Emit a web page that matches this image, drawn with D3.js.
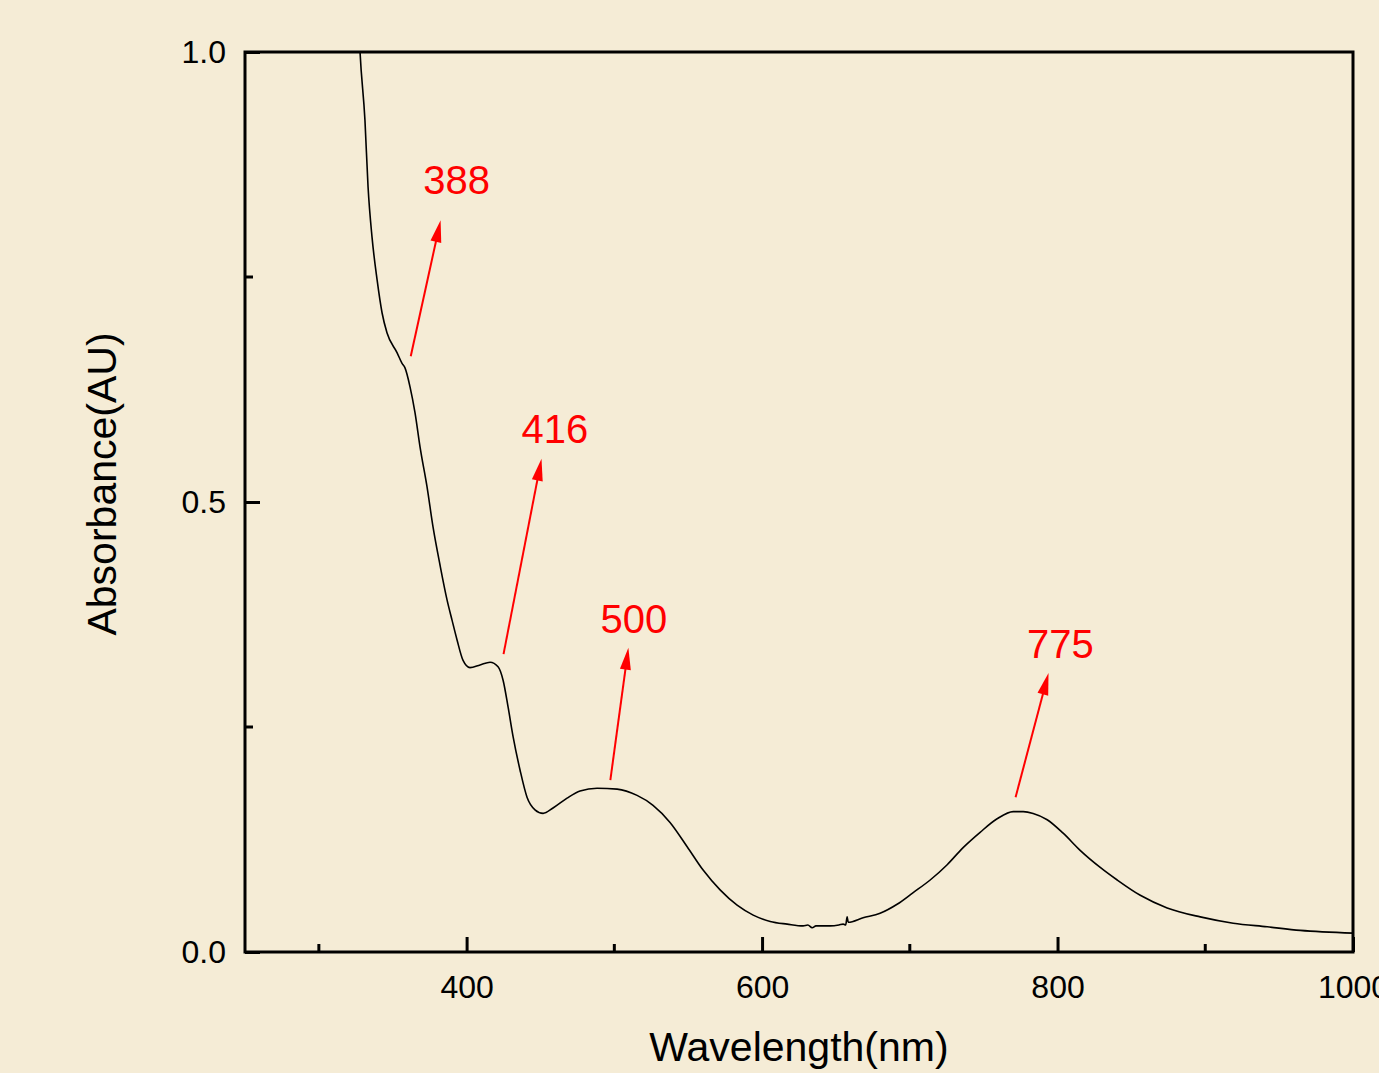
<!DOCTYPE html>
<html>
<head>
<meta charset="utf-8">
<script src="https://cdn.jsdelivr.net/npm/d3@7"></script>
<style>
  body { margin: 0; background: #f5ecd6; }
  svg { display: block; }
</style>
</head>
<body>
<div id="chart"></div>
<script>
// spectrum: wavelength (nm) and absorbance (AU)
const wavelength = [327, 327.9, 331.2, 333.3, 336.0, 339.4, 342.8, 346.1, 352.9, 356.3, 358.3, 361.7, 365.1, 368.5, 373.2, 377.3, 382.0, 386.8, 390.1, 393.5, 397.6, 402.3, 409.1, 415.9, 421.3, 424.7, 428.1, 431.5, 436.2, 440.9, 446.3, 451.8, 458.5, 468.0, 476.8, 488.3, 501.9, 515.4, 526.2, 537.7, 549.3, 560.1, 571.6, 583.1, 594.0, 605.5, 617.0, 627.8, 631.0, 633.9, 636.5, 639.3, 646.1, 652.0, 654.9, 656.6, 657.6, 658.3, 668.4, 679.9, 691.4, 702.3, 713.8, 725.3, 736.1, 747.6, 759.1, 770.0, 776.8, 783.5, 793.0, 803.8, 815.3, 828.9, 840.4, 856.0, 874.2, 896.6, 918.9, 941.9, 964.3, 1000];
const absorbance = [1.03, 0.999, 0.924, 0.850, 0.794, 0.747, 0.710, 0.688, 0.666, 0.654, 0.649, 0.628, 0.599, 0.561, 0.517, 0.472, 0.430, 0.391, 0.369, 0.347, 0.324, 0.316, 0.319, 0.322, 0.317, 0.302, 0.272, 0.239, 0.202, 0.172, 0.158, 0.154, 0.160, 0.171, 0.179, 0.182, 0.181, 0.174, 0.163, 0.144, 0.117, 0.091, 0.069, 0.052, 0.041, 0.034, 0.031, 0.029, 0.030, 0.027, 0.029, 0.029, 0.029, 0.030, 0.031, 0.030, 0.039, 0.033, 0.038, 0.043, 0.053, 0.066, 0.080, 0.097, 0.116, 0.133, 0.148, 0.156, 0.156, 0.154, 0.147, 0.132, 0.113, 0.094, 0.080, 0.063, 0.049, 0.039, 0.032, 0.028, 0.024, 0.021];

// peak labels and arrows (tail -> tip), in data units
const peakLabels = ["388", "416", "500", "775"];
const labelX = [393.2, 459.8, 513.2, 802.0];
const labelY = [0.842, 0.566, 0.354, 0.327];
const arrowFromX = [362.2, 425.0, 497.3, 771.6];
const arrowFromY = [0.662, 0.331, 0.191, 0.172];
const arrowToX = [382.4, 450.7, 509.5, 793.9];
const arrowToY = [0.813, 0.548, 0.338, 0.310];

const xMajor = [400, 600, 800, 1000];
const xMinor = [300, 500, 700, 900];
const yMajor = [0, 0.5, 1.0];
const yMinor = [0.25, 0.75];

const W = 1379, H = 1073;
const margin = { top: 52, right: 26, bottom: 121, left: 245 };
const width = W - margin.left - margin.right,
    height = H - margin.top - margin.bottom;
const font = "'Liberation Sans', Arial, sans-serif";

const svg = d3.select("#chart").append("svg")
    .attr("width", W).attr("height", H)
    .style("font-family", font);

svg.append("rect").attr("width", W).attr("height", H).attr("fill", "#f5ecd6");

const g = svg.append("g")
    .attr("transform", "translate(" + margin.left + "," + margin.top + ")");

const x = d3.scaleLinear().domain([250, 1000]).range([0, width]);
const y = d3.scaleLinear().domain([0, 1]).range([height, 0]);

g.append("clipPath").attr("id", "clip")
    .append("rect").attr("width", width).attr("height", height);

// curve
const pts = wavelength.map((w, i) => [w, absorbance[i]]);
const line = d3.line()
    .x(d => x(d[0]))
    .y(d => y(d[1]))
    .curve(d3.curveMonotoneX);

g.append("path")
    .datum(pts)
    .attr("clip-path", "url(#clip)")
    .attr("d", line)
    .attr("fill", "none")
    .attr("stroke", "#000")
    .attr("stroke-width", 1.6);

// frame
g.append("rect")
    .attr("width", width).attr("height", height)
    .attr("fill", "none").attr("stroke", "#000").attr("stroke-width", 3);

// bottom axis, ticks inward
const xAxis = g.append("g").attr("transform", "translate(0," + height + ")");
xAxis.call(d3.axisBottom(x).tickValues(xMajor).tickFormat(d3.format("d")).tickSizeInner(-15).tickSizeOuter(0).tickPadding(23))
xAxis.select(".domain").remove();
xAxis.selectAll(".tick line").attr("stroke-width", 3);
xAxis.selectAll("text").style("font-size", "32px").style("font-family", font).attr("fill", "#000");
xAxis.selectAll(".minor").data(xMinor).enter().append("line")
    .attr("x1", d => x(d)).attr("x2", d => x(d))
    .attr("y1", 0).attr("y2", -8)
    .attr("stroke", "#000").attr("stroke-width", 3);

// left axis
const yAxis = g.append("g");
yAxis.call(d3.axisLeft(y).tickValues(yMajor).tickFormat(d3.format(".1f")).tickSizeInner(-15).tickSizeOuter(0).tickPadding(19));
yAxis.select(".domain").remove();
yAxis.selectAll(".tick line").attr("stroke-width", 3);
yAxis.selectAll("text").style("font-size", "32px").style("font-family", font).attr("fill", "#000");
yAxis.selectAll(".minor").data(yMinor).enter().append("line")
    .attr("x1", 0).attr("x2", 8)
    .attr("y1", d => y(d)).attr("y2", d => y(d))
    .attr("stroke", "#000").attr("stroke-width", 3);

// axis titles
svg.append("text")
    .attr("x", margin.left + width / 2).attr("y", 1061)
    .attr("text-anchor", "middle")
    .style("font-size", "41px")
    .text("Wavelength(nm)");

svg.append("text")
    .attr("transform", "translate(116," + (margin.top + y(0.52)) + ") rotate(-90)")
    .attr("text-anchor", "middle")
    .style("font-size", "41px")
    .text("Absorbance(AU)");

// arrows
const headLen = 22, headHalf = 5.5;
peakLabels.forEach(function (lab, i) {
    const x0 = x(arrowFromX[i]), y0 = y(arrowFromY[i]);
    const x1 = x(arrowToX[i]), y1 = y(arrowToY[i]);
    const dx = x1 - x0, dy = y1 - y0, len = Math.sqrt(dx * dx + dy * dy);
    const ux = dx / len, uy = dy / len;
    const bx = x1 - ux * headLen, by = y1 - uy * headLen;
    g.append("line")
        .attr("x1", x0).attr("y1", y0).attr("x2", bx + ux * 2).attr("y2", by + uy * 2)
        .attr("stroke", "#ff0000").attr("stroke-width", 2);
    g.append("polygon")
        .attr("points", [[x1, y1], [bx - uy * headHalf, by + ux * headHalf], [bx + uy * headHalf, by - ux * headHalf]].join(" "))
        .attr("fill", "#ff0000");
    g.append("text")
        .attr("x", x(labelX[i])).attr("y", y(labelY[i]))
        .attr("text-anchor", "middle")
        .attr("fill", "#ff0000")
        .style("font-size", "40px")
        .text(lab);
});
</script>
</body>
</html>
